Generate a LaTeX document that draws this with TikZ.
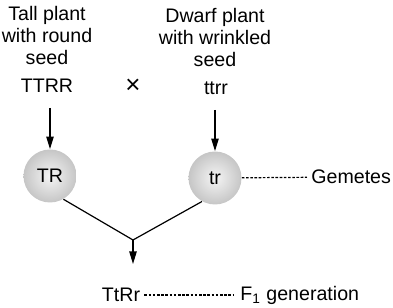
\documentclass[tikz,border=0pt]{standalone}
\usepackage{fontspec}
\setmainfont{Liberation Sans}
\usepackage{tikz}
\usetikzlibrary{arrows.meta,positioning,calc}

\begin{document}
\begin{tikzpicture}[
    x=0.5pt,y=-0.5pt,
    txt/.style={align=center,font=\fontsize{9.8}{11}\selectfont,inner sep=0pt},
    gamete/.style={circle,minimum size=26.5pt,inner sep=0pt,inner color=gray!8,outer color=gray!45,font=\fontsize{9.8}{11}\selectfont},
    arrow/.style={-{Triangle[length=2.2mm,width=1.3mm]},semithick},
    link/.style={semithick},
    dotline/.style={semithick,dash pattern=on 1.3pt off 0.8pt}
]
\useasboundingbox (0,0) rectangle (393,308);
% parents
\node[txt] (tall) at (47,36) {Tall plant\\with round\\seed};
\node[txt] (dwarf) at (215,38) {Dwarf plant\\with wrinkled\\seed};
\node[txt] (TTRR) at (47,86) {TTRR};
\node[txt,font=\fontsize{13}{13}\selectfont] (cross) at (133,86) {×};
\node[txt] (ttrr) at (216,88) {ttrr};
% gametes
\node[gamete] (TR) at (50,176) {TR};
\node[gamete] (tr) at (215,178) {tr};
\node[txt,anchor=west] (gem) at (311,177) {Gemetes};
\coordinate (topL) at (50,108);
\coordinate (topR) at (215,110);
\draw[arrow] (topL) -- (TR);
\draw[arrow] (topR) -- (tr);
\draw[dotline,shorten >=2pt] (tr) -- (gem);
% F1
\coordinate (join) at (133,240);
\coordinate (down) at (133,264);
\node[txt] (TtRr) at (121,295) {TtRr};
\node[txt,anchor=west] (F1) at (240,295) {F\textsubscript{1} generation};
\draw[link] (TR.-60) -- (join) -- (tr.-119);
\draw[arrow] (join) -- (down);
\draw[dotline,shorten <=2pt,shorten >=3pt] (TtRr) -- (F1);
\end{tikzpicture}
\end{document}
